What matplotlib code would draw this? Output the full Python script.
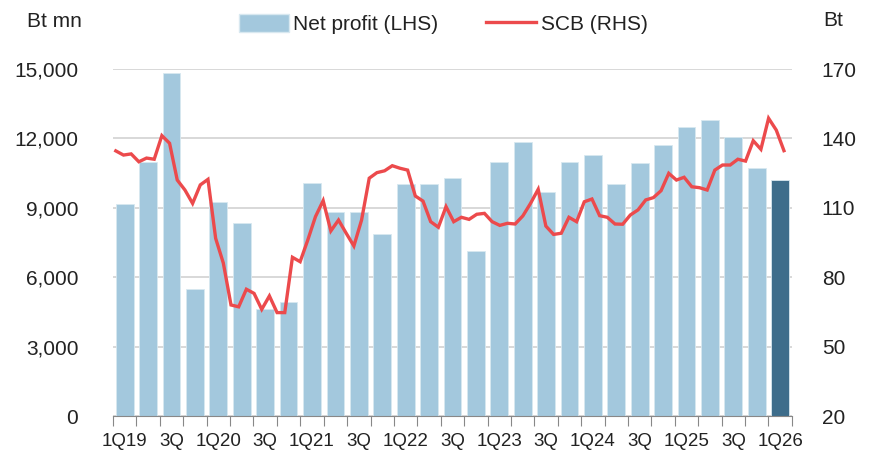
import numpy as np
import matplotlib
matplotlib.use("Agg")
import matplotlib.pyplot as plt
from matplotlib.patches import Patch
from matplotlib.lines import Line2D

plt.rcParams['font.family'] = ['Liberation Sans', 'DejaVu Sans']

quarters = ["1Q19", "2Q19", "3Q19", "4Q19", "1Q20", "2Q20", "3Q20", "4Q20",
            "1Q21", "2Q21", "3Q21", "4Q21", "1Q22", "2Q22", "3Q22", "4Q22",
            "1Q23", "2Q23", "3Q23", "4Q23", "1Q24", "2Q24", "3Q24", "4Q24",
            "1Q25", "2Q25", "3Q25", "4Q25", "1Q26"]
tick_labels = ["1Q19", "", "3Q", "", "1Q20", "", "3Q", "", "1Q21", "", "3Q", "",
               "1Q22", "", "3Q", "", "1Q23", "", "3Q", "", "1Q24", "", "3Q", "",
               "1Q25", "", "3Q", "", "1Q26"]

# net profit, Bt mn
net_profit = [9150, 10970, 14810, 5500, 9250, 8360, 4630, 4940,
              10070, 8800, 8800, 7870, 10030, 10040, 10300, 7130,
              10980, 11860, 9670, 10980, 11270, 10020, 10940, 11700,
              12490, 12780, 12050, 10710, 10200]

# SCB share price (monthly), Bt
scb_price = [134.6, 132.8, 133.3, 129.9, 131.5, 131.0, 141.2, 137.9, 122.0, 117.7,
             111.9, 119.9, 122.3, 96.8, 86.1, 68.0, 67.2, 74.8, 73.0, 66.1,
             71.9, 64.7, 64.7, 88.6, 86.7, 96.1, 106.2, 113.1, 100.0, 104.7,
             99.0, 93.5, 104.7, 122.8, 125.2, 126.0, 128.2, 127.1, 126.3, 115.1,
             112.9, 104.0, 101.6, 110.5, 104.0, 105.9, 105.0, 107.2, 107.6, 104.0,
             102.4, 103.3, 103.0, 106.5, 111.9, 118.0, 102.1, 98.5, 99.0, 105.9,
             104.0, 112.6, 113.8, 106.6, 105.9, 103.0, 102.9, 106.9, 109.1, 113.4,
             114.4, 117.4, 124.9, 122.0, 123.2, 119.1, 118.7, 117.7, 126.3, 128.5,
             128.5, 131.0, 130.2, 139.0, 135.3, 148.7, 143.6, 134.7]

light_blue = "#A3C8DD"
dark_blue = "#3D6D8B"
red = "#EC4A4C"
grey = "#D6D6D6"
txt = "#222222"
fs = 15

fig = plt.figure(figsize=(8.76, 4.57), dpi=100)
ax = fig.add_axes([0.129, 0.0897, 0.775, 0.7593])

x = np.arange(len(quarters))
colors = [light_blue] * (len(quarters) - 1) + [dark_blue]
ax.bar(x, net_profit, width=0.76, color=colors, edgecolor="#D8E8F0", linewidth=0.6, zorder=2)

ax.set_ylim(0, 15000)
ax.set_xlim(-0.5, len(quarters) - 0.5)
ax.set_yticks(np.arange(0, 15001, 3000))
ax.set_yticklabels([f"{v:,}" for v in range(0, 15001, 3000)])
ax.yaxis.grid(True, color=grey, linewidth=1.3)
ax.set_axisbelow(True)
ax.tick_params(axis="y", length=0, pad=25, labelsize=fs, labelcolor=txt)

ax.set_xticks(x)
ax.set_xticklabels(tick_labels)
ax.set_xticks(np.arange(-0.5, len(quarters), 1), minor=True)
ax.tick_params(axis="x", which="major", length=0, pad=12, labelsize=13.5, labelcolor=txt)
ax.tick_params(axis="x", which="minor", length=7, color="#888888", width=0.8)
for s in ["top", "right", "left"]:
    ax.spines[s].set_visible(False)
ax.spines["bottom"].set_color("#888888")
ax.spines["bottom"].set_linewidth(0.8)

ax2 = ax.twinx()
line_x = np.linspace(-0.38, 28.16, len(scb_price))
ax2.plot(line_x, scb_price, color=red, linewidth=2.4, solid_joinstyle="miter", zorder=3)
ax2.set_ylim(20, 170)
ax2.set_yticks(np.arange(20, 171, 30))
ax2.tick_params(axis="y", length=0, pad=21.5, labelsize=fs, labelcolor=txt)
for s in ["top", "right", "left", "bottom"]:
    ax2.spines[s].set_visible(False)

fig.text(0.031, 0.952, "Bt mn", fontsize=fs, color=txt, va="center")
fig.text(0.94, 0.956, "Bt", fontsize=fs, color=txt, va="center")

handles = [Patch(facecolor=light_blue, edgecolor="#D8E8F0"),
           Line2D([0], [0], color=red, linewidth=2.4)]
fig.legend(handles, ["Net profit (LHS)", "SCB (RHS)"], loc="center",
           bbox_to_anchor=(0.506, 0.948), ncol=2, frameon=False, fontsize=fs,
           handlelength=2.4, handleheight=1.0, handletextpad=0.2, columnspacing=2.3,
           labelcolor=txt)

fig.savefig("out.png", dpi=100)
